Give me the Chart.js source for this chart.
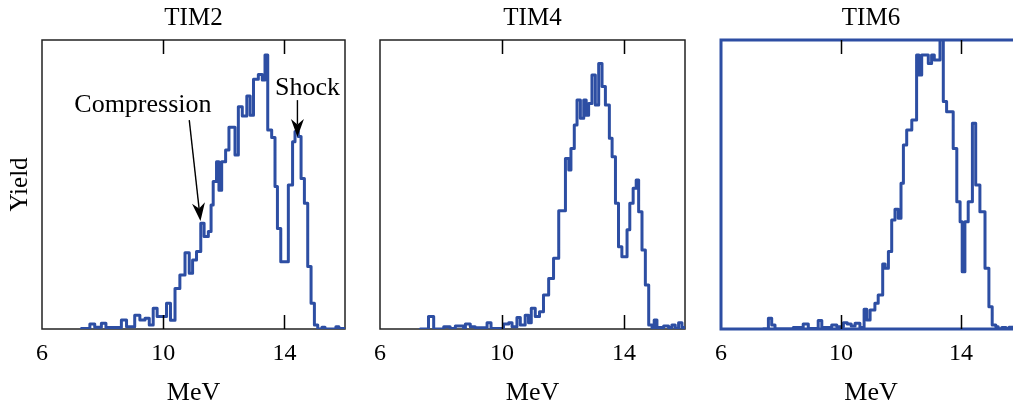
<!DOCTYPE html>
<html>
<head>
<meta charset="utf-8">
<script src="https://cdn.jsdelivr.net/npm/chart.js@4.4.1/dist/chart.umd.min.js"></script>
<style>
  html, body { margin: 0; padding: 0; background: #fff; overflow: hidden; }
  #wrap { position: relative; width: 1013px; height: 407px; overflow: hidden; }
  canvas { position: absolute; top: 0; }
</style>
</head>
<body>
<div id="wrap">
  <canvas id="tim2"></canvas>
  <canvas id="tim4"></canvas>
  <canvas id="tim6"></canvas>
</div>
<script>
// histogram left bin edges (MeV) and yields (arb. units, 0-100 = frame height)
const tim2Edges = [7.30, 7.58, 7.74, 7.96, 8.11, 8.62, 8.79, 9.06, 9.23, 9.40, 9.54, 9.67, 9.80, 10.11, 10.24, 10.39, 10.55, 10.72, 10.86, 10.97,
  11.10, 11.24, 11.35, 11.49, 11.58, 11.65, 11.76, 11.84, 11.93, 12.06, 12.17, 12.37, 12.48, 12.61, 12.76, 12.87, 12.98, 13.14, 13.27, 13.36,
  13.45, 13.58, 13.69, 13.77, 13.88, 14.13, 14.27, 14.35, 14.46, 14.55, 14.66, 14.77, 14.88, 14.99, 15.10, 15.24, 15.34, 15.70, 15.80, 16.0];
const tim2Yield = [0.2, 1.7, 0.6, 2.0, 0.5, 3.1, 0.8, 4.8, 3.1, 3.7, 1.4, 7.2, 4.3, 8.9, 3.0, 14.0, 18.7, 26.4, 19.3, 23.9,
  26.8, 36.6, 32.0, 33.7, 42.9, 51.0, 57.9, 48.0, 57.9, 61.9, 69.8, 60.2, 76.9, 73.7, 80.6, 74.0, 86.4, 88.1, 86.2, 94.8,
  68.9, 66.3, 49.3, 34.8, 23.3, 49.8, 64.8, 68.3, 66.6, 52.1, 43.5, 21.6, 8.9, 1.4, 0, 0.6, 0, 0.8, 0.2];

const tim4Edges = [7.32, 7.59, 7.76, 8.09, 8.30, 8.47, 8.74, 8.80, 8.96, 9.12, 9.51, 9.64, 10.05, 10.22, 10.33, 10.49, 10.60, 10.76, 10.87, 10.96,
  11.09, 11.23, 11.36, 11.53, 11.69, 11.86, 12.08, 12.19, 12.26, 12.37, 12.46, 12.57, 12.68, 12.76, 12.84, 12.95, 13.06, 13.17, 13.28, 13.39,
  13.52, 13.61, 13.72, 13.82, 13.93, 14.10, 14.19, 14.30, 14.40, 14.48, 14.59, 14.70, 14.81, 14.92, 14.99, 15.08, 15.30, 15.46, 15.57, 15.68,
  15.79, 15.90, 16.0];
const tim4Yield = [0, 4.3, 0, 0.8, 0.2, 1.0, 0.3, 1.7, 0.8, 0.4, 2.2, 0.2, 1.7, 2.2, 0.8, 4.0, 1.4, 4.8, 2.2, 7.2,
  4.3, 6.0, 11.8, 17.5, 24.5, 40.9, 59.0, 55.0, 62.5, 70.6, 79.2, 72.9, 79.2, 74.0, 78.0, 87.9, 77.5, 91.9, 83.9, 77.5,
  66.0, 59.6, 43.5, 28.5, 25.0, 34.3, 43.5, 48.7, 51.6, 40.6, 27.3, 15.2, 1.4, 0, 3.1, 0.5, 1.0, 0.5, 1.4, 0.3,
  2.2, 0.5];

const tim6Edges = [7.41, 7.58, 7.69, 7.80, 8.41, 8.74, 8.91, 9.24, 9.36, 9.69, 9.86, 10.08, 10.21, 10.34, 10.47, 10.63, 10.77, 10.86, 10.97, 11.13,
  11.24, 11.39, 11.47, 11.58, 11.69, 11.80, 11.91, 12.00, 12.08, 12.19, 12.36, 12.52, 12.60, 12.69, 12.91, 13.02, 13.11, 13.30, 13.41, 13.52,
  13.74, 13.86, 13.97, 14.04, 14.13, 14.24, 14.38, 14.49, 14.63, 14.80, 14.93, 15.04, 15.16, 15.24, 15.36, 15.50, 15.60, 16.0];
const tim6Yield = [0, 3.7, 1.4, 0, 0.5, 1.7, 0.2, 2.9, 0.5, 1.4, 0.8, 2.2, 1.7, 1.0, 2.0, 0.5, 6.8, 3.1, 6.6, 8.9,
  11.8, 22.5, 21.0, 26.8, 37.7, 41.4, 38.3, 50.4, 63.7, 68.9, 72.3, 94.8, 87.9, 94.8, 91.9, 94.8, 93.1, 104, 78.7, 75.2,
  62.5, 44.0, 37.1, 19.8, 37.1, 44.0, 71.2, 49.8, 40.6, 21.0, 7.7, 1.4, 0.8, 0, 0.5, 0.2, 0.6];

const xTicks = [6, 10, 14];
const innerTicks = [10, 14];
const panelTitles = ['TIM2', 'TIM4', 'TIM6'];

const SERIF = '"Liberation Serif", "Times New Roman", Times, serif';
const LINE = '#2d4ea3';

function toSteps(edges, ys) {
  const pts = ys.map((v, i) => ({ x: edges[i], y: v }));
  pts.push({ x: edges[edges.length - 1], y: ys[ys.length - 1] });
  return pts;
}

function drawFrame(chart, o) {
  const { ctx, chartArea: a } = chart;
  ctx.save();
  ctx.strokeStyle = o.color;
  ctx.lineWidth = o.width;
  ctx.strokeRect(a.left, a.top, a.right - a.left, a.bottom - a.top);
  ctx.restore();
}

const framePlugin = {
  id: 'frame',
  beforeDatasetsDraw(chart, args, o) { if (!o.onTop) drawFrame(chart, o); },
  afterDatasetsDraw(chart, args, o) {
    if (o.onTop) drawFrame(chart, o);
    const { ctx, chartArea: a, scales: { x } } = chart;
    ctx.save();
    ctx.strokeStyle = '#000';
    ctx.lineWidth = 1.5;
    ctx.beginPath();
    innerTicks.forEach(t => {
      const px = Math.round(x.getPixelForValue(t)) + 0.5;
      ctx.moveTo(px, a.top); ctx.lineTo(px, a.top + 14);
      ctx.moveTo(px, a.bottom); ctx.lineTo(px, a.bottom - 14);
    });
    ctx.stroke();
    ctx.restore();
  }
};

function arrow(ctx, x0, y0, x1, y1) {
  const ang = Math.atan2(y1 - y0, x1 - x0);
  const len = 18, hw = 6.5;
  ctx.beginPath();
  ctx.moveTo(x0, y0);
  ctx.lineTo(x1 - Math.cos(ang) * len * 0.7, y1 - Math.sin(ang) * len * 0.7);
  ctx.stroke();
  const bx = x1 - Math.cos(ang) * len, by = y1 - Math.sin(ang) * len;
  const nx = -Math.sin(ang), ny = Math.cos(ang);
  ctx.beginPath();
  ctx.moveTo(x1, y1);
  ctx.lineTo(bx + nx * hw, by + ny * hw);
  ctx.lineTo(x1 - Math.cos(ang) * len * 0.7, y1 - Math.sin(ang) * len * 0.7);
  ctx.lineTo(bx - nx * hw, by - ny * hw);
  ctx.closePath();
  ctx.fill();
}

const notePlugin = {
  id: 'notes',
  afterDatasetsDraw(chart, args, o) {
    if (!o.items) return;
    const { ctx, scales: { x, y } } = chart;
    ctx.save();
    ctx.fillStyle = '#000';
    ctx.strokeStyle = '#000';
    ctx.lineWidth = 1.4;
    ctx.font = '26px ' + SERIF;
    ctx.textAlign = 'center';
    ctx.textBaseline = 'alphabetic';
    o.items.forEach(n => {
      ctx.fillText(n.text, x.getPixelForValue(n.tx), y.getPixelForValue(n.ty));
      arrow(ctx, x.getPixelForValue(n.from[0]), y.getPixelForValue(n.from[1]),
        x.getPixelForValue(n.to[0]), y.getPixelForValue(n.to[1]));
    });
    ctx.restore();
  }
};

function makePanel(id, left, plotW, title, edges, ys, extra) {
  const axisW = 42, rightPad = 12;
  const cv = document.getElementById(id);
  const w = axisW + plotW + rightPad;
  cv.width = w; cv.height = 407;
  cv.style.width = w + 'px'; cv.style.height = '407px';
  cv.style.left = (left - axisW) + 'px';

  return new Chart(cv, {
    type: 'line',
    data: {
      datasets: [{
        data: toSteps(edges, ys),
        stepped: true,
        borderColor: LINE,
        borderWidth: 3,
        borderJoinStyle: 'round',
        borderCapStyle: 'round',
        pointRadius: 0,
        fill: false
      }]
    },
    options: {
      responsive: false,
      animation: false,
      events: [],
      layout: { padding: { left: 0, right: rightPad, top: 0, bottom: 0 } },
      plugins: {
        legend: { display: false },
        tooltip: { enabled: false },
        title: {
          display: true,
          text: title,
          fullSize: false,
          color: '#000',
          font: { family: SERIF, size: 25, weight: 'normal', lineHeight: 1.2 },
          padding: { top: 3, bottom: 7 }
        },
        frame: extra.frame,
        notes: { items: extra.notes || null }
      },
      scales: {
        x: {
          type: 'linear',
          min: 6, max: 16,
          afterBuildTicks: s => { s.ticks = xTicks.map(v => ({ value: v })); },
          afterFit: s => { s.height = 78; },
          grid: { display: false, drawTicks: false },
          border: { display: false },
          ticks: {
            color: '#000',
            font: { family: SERIF, size: 24, lineHeight: 1.2 },
            padding: 10,
            maxRotation: 0,
            autoSkip: false
          },
          title: {
            display: true,
            text: 'MeV',
            color: '#000',
            font: { family: SERIF, size: 26, lineHeight: 1.1 },
            padding: { top: 0, bottom: 0 }
          }
        },
        y: {
          min: 0, max: 100,
          afterFit: s => { s.width = axisW; },
          grid: { display: false, drawTicks: false },
          border: { display: false },
          ticks: { display: false },
          title: {
            display: !!extra.yTitle,
            text: 'Yield',
            color: '#000',
            font: { family: SERIF, size: 25, lineHeight: 1.2 },
            padding: { top: 5, bottom: 0 }
          }
        }
      }
    },
    plugins: [framePlugin, notePlugin]
  });
}

makePanel('tim2', 42, 303, panelTitles[0], tim2Edges, tim2Yield, {
  yTitle: true,
  frame: { color: '#222', width: 1.5, onTop: false },
  notes: [
    { text: 'Compression', tx: 9.33, ty: 75.1, from: [10.86, 72.3], to: [11.23, 37.4] },
    { text: 'Shock', tx: 14.76, ty: 81.0, from: [14.43, 79.2], to: [14.43, 66.4] }
  ]
});
makePanel('tim4', 380, 305, panelTitles[1], tim4Edges, tim4Yield, {
  frame: { color: '#222', width: 1.5, onTop: false }
});
makePanel('tim6', 721, 300, panelTitles[2], tim6Edges, tim6Yield, {
  frame: { color: LINE, width: 3, onTop: true }
});
</script>
</body>
</html>
